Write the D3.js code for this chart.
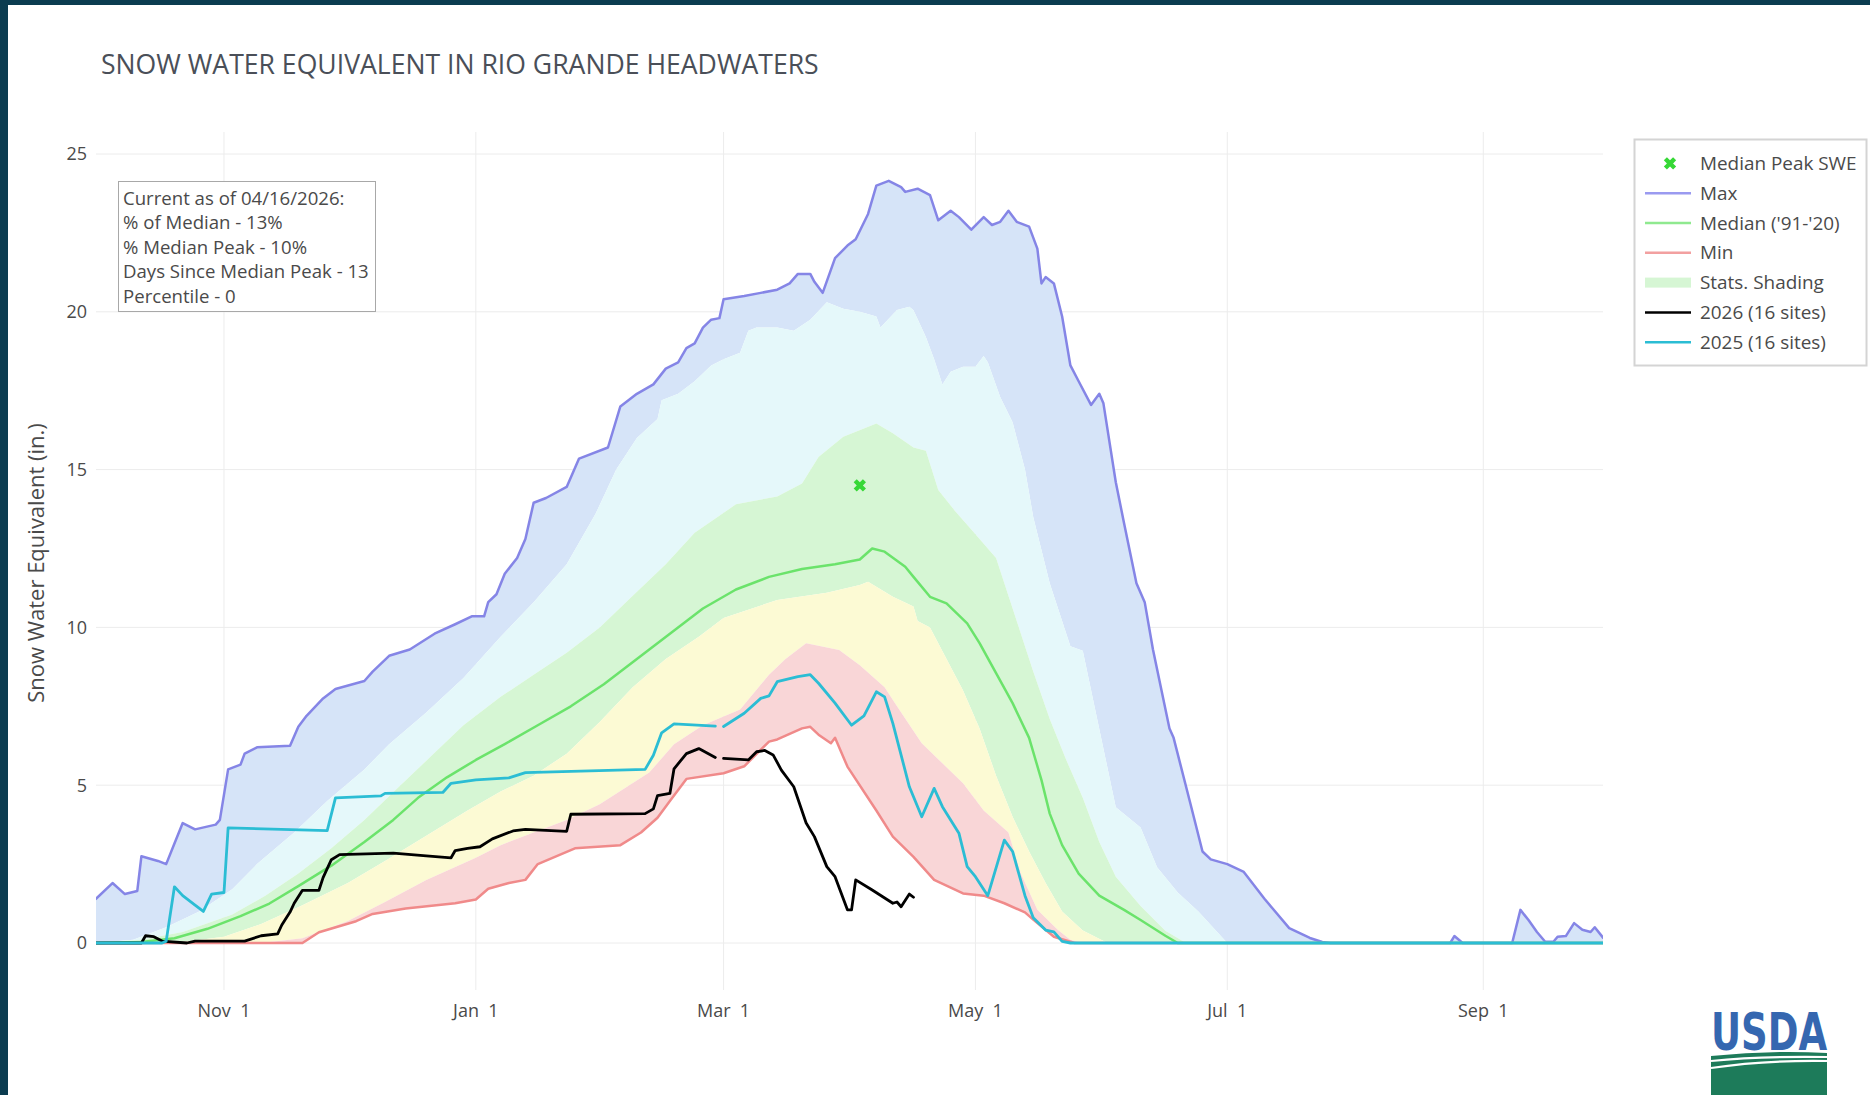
<!DOCTYPE html>
<html>
<head>
<meta charset="utf-8">
<script src="https://cdn.jsdelivr.net/npm/d3@7"></script>
<style>
  html, body { margin: 0; padding: 0; background: #ffffff; }
  svg { display: block; font-family: "Open Sans", "DejaVu Sans", sans-serif; }
  .tick-x { white-space: pre; }
</style>
</head>
<body>
<svg id="chart" width="1870" height="1095"></svg>
<script>
// Snow water equivalent (inches) by month-day of the water year (Oct 1 - Sep 30).
// Statistics are for 1991-2020; null marks a day a series has no value (Feb 29).

const maxSWE = [
  ["10-01",1.4],["10-05",1.9],["10-08",1.55],["10-11",1.65],["10-12",2.75],["10-16",2.6],["10-18",2.5],
  ["10-20",3.15],["10-22",3.8],["10-25",3.6],["10-30",3.75],["10-31",3.9],["11-02",5.5],["11-05",5.65],
  ["11-06",6.0],["11-09",6.2],["11-17",6.25],["11-19",6.85],["11-21",7.2],["11-25",7.75],["11-28",8.05],
  ["12-05",8.3],["12-07",8.6],["12-11",9.1],["12-16",9.3],["12-22",9.8],["12-27",10.1],["12-31",10.35],
  ["01-03",10.35],["01-04",10.8],["01-06",11.05],["01-08",11.7],["01-11",12.2],["01-13",12.8],["01-15",13.95],
  ["01-18",14.1],["01-23",14.45],["01-26",15.35],["02-02",15.7],["02-05",17.0],["02-09",17.4],["02-13",17.7],
  ["02-16",18.2],["02-19",18.4],["02-21",18.85],["02-23",19.0],["02-25",19.5],["02-27",19.75],["02-29",19.8],
  ["03-01",20.4],["03-06",20.5],["03-10",20.6],["03-14",20.7],["03-17",20.9],["03-19",21.2],["03-22",21.2],
  ["03-23",20.95],["03-25",20.6],["03-28",21.7],["03-31",22.1],["04-02",22.3],["04-05",23.1],["04-07",24.0],
  ["04-10",24.15],["04-13",23.95],["04-14",23.8],["04-17",23.9],["04-20",23.7],["04-22",22.9],["04-25",23.2],
  ["04-27",23.0],["04-30",22.6],["05-03",23.0],["05-05",22.75],["05-07",22.85],["05-09",23.2],["05-11",22.85],
  ["05-14",22.7],["05-16",22.0],["05-17",20.9],["05-18",21.1],["05-20",20.9],["05-22",19.85],["05-24",18.3],
  ["05-26",17.8],["05-29",17.05],["05-31",17.4],["06-01",17.1],["06-04",14.6],["06-06",13.3],["06-09",11.4],
  ["06-11",10.8],["06-13",9.3],["06-17",6.8],["06-18",6.5],["06-22",4.45],["06-25",2.9],["06-27",2.65],
  ["07-01",2.5],["07-05",2.25],["07-10",1.4],["07-16",0.47],["07-21",0.16],["07-24",0.03],["07-26",0],
  ["08-24",0],["08-25",0.22],["08-27",0],["09-08",0],["09-10",1.05],["09-12",0.72],["09-14",0.35],
  ["09-16",0.04],["09-18",0.04],["09-19",0.2],["09-21",0.22],["09-23",0.63],["09-25",0.42],["09-27",0.35],
  ["09-28",0.5],["09-30",0.17]
];

const pct90 = [
  ["10-01",0],["10-10",0.1],["10-18",0.5],["10-26",1.0],["11-03",1.7],["11-09",2.5],["11-18",3.5],
  ["11-26",4.5],["12-05",5.5],["12-11",6.3],["12-20",7.3],["12-29",8.4],["01-07",9.7],["01-15",10.8],
  ["01-23",12.0],["01-30",13.6],["02-04",15.0],["02-09",16.0],["02-14",16.6],["02-15",17.2],["02-19",17.4],
  ["02-23",17.8],["02-27",18.3],["03-01",18.5],["03-05",18.7],["03-07",19.4],["03-09",19.5],["03-14",19.5],
  ["03-18",19.4],["03-22",19.75],["03-26",20.3],["03-30",20.1],["04-03",20.0],["04-07",19.85],["04-08",19.5],
  ["04-12",20.06],["04-15",20.16],["04-16",20.05],["04-19",19.2],["04-21",18.5],["04-23",17.7],["04-25",18.1],
  ["04-28",18.26],["05-01",18.26],["05-03",18.6],["05-04",18.4],["05-07",17.3],["05-10",16.5],["05-13",15.0],
  ["05-15",13.5],["05-19",11.4],["05-24",9.4],["05-27",9.26],["05-30",7.4],["06-04",4.3],["06-10",3.66],
  ["06-14",2.4],["06-19",1.6],["06-24",1.0],["07-01",0],["09-30",0]
];

const pct70 = [
  ["10-01",0],["10-12",0.1],["10-22",0.35],["11-03",0.9],["11-11",1.5],["11-19",2.2],["11-27",3.0],
  ["12-05",3.9],["12-13",4.9],["12-21",5.9],["12-29",6.9],["01-07",7.8],["01-15",8.5],["01-23",9.2],
  ["01-31",10.0],["02-08",11.0],["02-16",12.0],["02-23",13.0],["03-04",13.9],["03-14",14.15],["03-20",14.56],
  ["03-24",15.4],["03-30",16.04],["04-07",16.46],["04-11",16.15],["04-16",15.7],["04-19",15.6],["04-22",14.35],
  ["04-26",13.7],["04-30",13.1],["05-06",12.2],["05-11",10.2],["05-15",8.6],["05-19",7.1],["05-23",5.8],
  ["05-27",4.6],["05-31",3.2],["06-04",2.1],["06-10",1.17],["06-16",0.39],["06-21",0],["09-30",0]
];

const medianSWE = [
  ["10-01",0],["10-12",0.03],["10-20",0.15],["10-28",0.45],["11-05",0.85],["11-12",1.25],["11-19",1.8],
  ["11-27",2.45],["12-05",3.2],["12-12",3.9],["12-18",4.6],["12-25",5.25],["01-01",5.8],["01-08",6.3],
  ["01-16",6.9],["01-24",7.5],["02-01",8.2],["02-09",9.0],["02-17",9.8],["02-25",10.6],["03-04",11.2],
  ["03-12",11.6],["03-20",11.85],["03-28",12.0],["04-03",12.15],["04-06",12.5],["04-09",12.4],["04-14",11.92],
  ["04-16",11.6],["04-20",10.97],["04-24",10.76],["04-29",10.13],["05-02",9.5],["05-06",8.55],["05-10",7.6],
  ["05-14",6.5],["05-17",5.16],["05-19",4.1],["05-22",3.1],["05-26",2.2],["05-31",1.5],["06-06",1.05],
  ["06-10",0.73],["06-16",0.23],["06-19",0],["09-30",0]
];

const pct30 = [
  ["10-01",0],["10-20",0],["11-01",0.2],["11-10",0.6],["11-20",1.2],["12-01",1.9],["12-10",2.6],
  ["12-20",3.4],["12-30",4.2],["01-07",4.8],["01-15",5.3],["01-23",6.0],["01-31",7.0],["02-08",8.1],
  ["02-16",9.0],["02-24",9.7],["03-01",10.3],["03-14",10.87],["03-26",11.1],["04-03",11.34],["04-05",11.45],
  ["04-11",10.97],["04-16",10.66],["04-17",10.2],["04-20",10.0],["04-24",9.0],["04-28",8.0],["05-02",6.8],
  ["05-06",5.3],["05-10",4.0],["05-14",2.9],["05-18",1.9],["05-22",1.0],["05-27",0.4],["06-02",0],["09-30",0]
];

const pct10 = [
  ["10-01",0],["11-10",0],["11-20",0.15],["12-01",0.7],["12-10",1.3],["12-20",2.0],["01-01",2.7],
  ["01-07",3.1],["01-15",3.5],["01-23",3.9],["01-31",4.4],["02-12",5.4],["02-18",6.3],["02-25",6.9],
  ["03-05",7.4],["03-12",8.5],["03-16",9.0],["03-21",9.5],["03-29",9.28],["04-03",8.8],["04-09",8.1],
  ["04-12",7.5],["04-18",6.33],["04-28",5.06],["05-03",4.2],["05-09",3.5],["05-12",2.2],["05-16",1.05],
  ["05-21",0.41],["05-24",0.1],["05-27",0],["09-30",0]
];

const minSWE = [
  ["10-01",0],["11-20",0],["11-24",0.34],["12-03",0.69],["12-07",0.92],["12-15",1.09],["12-27",1.26],
  ["01-01",1.38],["01-04",1.72],["01-09",1.9],["01-13",2.0],["01-16",2.5],["01-25",3.0],["02-05",3.1],
  ["02-10",3.5],["02-14",3.97],["02-17",4.5],["02-21",5.2],["03-01",5.38],["03-06",5.6],["03-12",6.38],
  ["03-14",6.45],["03-20",6.8],["03-22",6.85],["03-24",6.6],["03-27",6.33],["03-28",6.5],["03-31",5.59],
  ["04-07",4.2],["04-11",3.37],["04-16",2.73],["04-21",2.0],["04-28",1.57],["05-03",1.5],["05-08",1.26],
  ["05-13",0.97],["05-15",0.74],["05-20",0.2],["05-25",0],["09-30",0]
];

const wy2026 = [
  ["10-01",0],["10-12",0],["10-13",0.23],["10-15",0.2],["10-17",0.06],["10-23",0],["10-25",0.06],
  ["11-06",0.06],["11-10",0.23],["11-14",0.29],["11-15",0.57],["11-17",0.98],["11-18",1.26],["11-20",1.67],
  ["11-24",1.67],["11-25",2.07],["11-27",2.64],["11-29",2.8],["12-12",2.85],["12-20",2.76],
  ["12-26",2.7],["12-27",2.93],["12-30",3.0],["01-02",3.05],["01-05",3.3],["01-10",3.55],["01-13",3.6],
  ["01-23",3.54],["01-24",4.08],["02-11",4.1],["02-13",4.25],["02-14",4.67],["02-17",4.74],["02-18",5.52],
  ["02-21",6.0],["02-24",6.16],["02-28",5.88],["02-29",null],["03-01",5.85],["03-07",5.8],["03-09",6.06],
  ["03-11",6.1],["03-13",5.96],["03-15",5.48],["03-18",4.95],["03-21",3.8],["03-23",3.37],["03-26",2.42],
  ["03-28",2.1],["03-31",1.05],["04-01",1.05],["04-02",2.0],["04-06",1.68],["04-11",1.26],["04-12",1.3],
  ["04-13",1.15],["04-15",1.55],["04-16",1.45]
];

const wy2025 = [
  ["10-01",0],["10-17",0],["10-18",0.06],["10-20",1.78],["10-22",1.5],["10-25",1.2],["10-27",1.0],
  ["10-29",1.55],["11-01",1.6],["11-02",3.65],["11-26",3.56],["11-28",4.6],["12-09",4.66],["12-10",4.74],
  ["12-24",4.77],["12-26",5.06],["01-01",5.17],["01-09",5.23],["01-13",5.4],["02-11",5.5],["02-13",5.95],
  ["02-15",6.66],["02-18",6.94],["02-28",6.87],["02-29",null],["03-01",6.86],["03-06",7.28],
  ["03-10",7.75],["03-12",7.83],["03-14",8.28],["03-19",8.44],["03-22",8.5],["03-24",8.23],["03-28",7.6],
  ["04-01",6.9],["04-04",7.2],["04-07",7.96],["04-09",7.8],["04-11",6.96],["04-15",4.95],["04-18",4.0],
  ["04-21",4.9],["04-23",4.32],["04-27",3.48],["04-29",2.42],["05-01",2.1],["05-04",1.5],["05-08",3.26],
  ["05-10",2.9],["05-13",1.5],["05-15",0.8],["05-18",0.41],["05-20",0.35],["05-22",0.05],["05-24",0],
  ["09-30",0]
];

const medianPeak = [["04-03", 14.5]];

const yTicks = [0, 5, 10, 15, 20, 25];
const xTicks = ["11-01", "01-01", "03-01", "05-01", "07-01", "09-01"];

const titleText = "SNOW WATER EQUIVALENT IN RIO GRANDE HEADWATERS";
const yTitle = "Snow Water Equivalent (in.)";
const statusLines = [
  "Current as of 04/16/2026:",
  "% of Median - 13%",
  "% Median Peak - 10%",
  "Days Since Median Peak - 13",
  "Percentile - 0"
];

// ---------------------------------------------------------------------------

// Month-day keys are placed on a leap-year water year so Feb 29 has a slot.
function mdDate(md) {
  const [m, d] = md.split("-").map(Number);
  return new Date(m >= 10 ? 2019 : 2020, m - 1, d);
}
const toPts = arr => arr.map(([md, v]) => ({ date: mdDate(md), v }));

const svg = d3.select("#chart");

const plot = { left: 96, right: 1603, top: 132, bottom: 990 };
const x = d3.scaleTime()
  .domain([mdDate("10-01"), mdDate("09-30")])
  .range([plot.left, plot.right]);
const y = d3.scaleLinear().domain([0, 25]).range([943, 154]);

// page frame
svg.append("rect").attr("x", 0).attr("y", 0).attr("width", 1870).attr("height", 1095).attr("fill", "#ffffff");
svg.append("rect").attr("x", 0).attr("y", 0).attr("width", 1870).attr("height", 5).attr("fill", "#0b3c50");
svg.append("rect").attr("x", 0).attr("y", 0).attr("width", 8).attr("height", 1095).attr("fill", "#0b3c50");

svg.append("defs").append("clipPath").attr("id", "plotClip")
  .append("rect")
  .attr("x", plot.left).attr("y", plot.top)
  .attr("width", plot.right - plot.left).attr("height", plot.bottom - plot.top);

// grid
const grid = svg.append("g").attr("class", "grid");
grid.selectAll("line.h").data(yTicks).join("line")
  .attr("x1", plot.left).attr("x2", plot.right)
  .attr("y1", d => y(d)).attr("y2", d => y(d))
  .attr("stroke", "#ececec").attr("stroke-width", 1);
grid.selectAll("line.v").data(xTicks).join("line")
  .attr("x1", d => x(mdDate(d))).attr("x2", d => x(mdDate(d)))
  .attr("y1", plot.top).attr("y2", plot.bottom)
  .attr("stroke", "#ececec").attr("stroke-width", 1);

const layer = svg.append("g").attr("clip-path", "url(#plotClip)");

// shaded percentile bands: polygon from upper series then lower series reversed
function band(upper, lower, fill) {
  const up = toPts(upper).map(p => [x(p.date), y(p.v)]);
  const lo = toPts(lower).map(p => [x(p.date), y(p.v)]).reverse();
  const pts = up.concat(lo);
  layer.append("path")
    .attr("d", "M" + pts.map(p => p.join(",")).join("L") + "Z")
    .attr("fill", fill).attr("stroke", "none");
}
band(maxSWE, pct90, "#d6e4f8");
band(pct90, pct70, "#e5f8fa");
band(pct70, pct30, "#d6f6d4");
band(pct30, pct10, "#fcfad4");
band(pct10, minSWE, "#f9d6d7");

const line = d3.line()
  .defined(p => p.v !== null)
  .x(p => x(p.date))
  .y(p => y(p.v));

function drawLine(arr, color, width) {
  layer.append("path")
    .datum(toPts(arr))
    .attr("d", line)
    .attr("fill", "none")
    .attr("stroke", color)
    .attr("stroke-width", width)
    .attr("stroke-linejoin", "round")
    .attr("stroke-linecap", "round");
}
drawLine(maxSWE, "#8585e6", 2.5);
drawLine(minSWE, "#f08a8a", 2.5);
drawLine(medianSWE, "#6be36b", 2.5);
drawLine(wy2026, "#000000", 2.8);
drawLine(wy2025, "#2bbdd4", 2.8);

// median peak marker
const xSym = d3.symbol().type(d3.symbolCross).size(95);
layer.selectAll("path.peak").data(toPts(medianPeak)).join("path")
  .attr("d", xSym)
  .attr("transform", p => `translate(${x(p.date)},${y(p.v)}) rotate(45)`)
  .attr("fill", "#36d836");

// axes labels
const tickFont = 18;
svg.append("g").selectAll("text").data(yTicks).join("text")
  .attr("x", 87).attr("y", d => y(d))
  .attr("dy", "0.35em")
  .attr("text-anchor", "end")
  .attr("font-size", tickFont)
  .attr("fill", "#4a4a4a")
  .text(d => d);

const fmt = d3.timeFormat("%b %e");
svg.append("g").selectAll("text").data(xTicks).join("text")
  .attr("class", "tick-x")
  .attr("x", d => x(mdDate(d))).attr("y", 1017)
  .attr("text-anchor", "middle")
  .attr("font-size", tickFont)
  .attr("fill", "#4a4a4a")
  .text(d => fmt(mdDate(d)));

svg.append("text")
  .attr("transform", "translate(44,563) rotate(-90)")
  .attr("text-anchor", "middle")
  .attr("font-size", 22)
  .attr("fill", "#4a4a4a")
  .text(yTitle);

// title
svg.append("text")
  .attr("x", 101).attr("y", 74)
  .attr("font-size", 26.6)
  .attr("fill", "#4a4f58")
  .text(titleText);

// status box
const box = svg.append("g");
box.append("rect")
  .attr("x", 118.5).attr("y", 181.5).attr("width", 257).attr("height", 130)
  .attr("fill", "#ffffff").attr("stroke", "#a8a8a8").attr("stroke-width", 1);
box.selectAll("text").data(statusLines).join("text")
  .attr("x", 123).attr("y", (d, i) => 204.5 + i * 24.6)
  .attr("font-size", 18.6)
  .attr("fill", "#4a4a4a")
  .text(d => d);

// legend
const legendItems = [
  { label: "Median Peak SWE", kind: "marker", color: "#36d836" },
  { label: "Max", kind: "line", color: "#9a9af0" },
  { label: "Median ('91-'20)", kind: "line", color: "#8fe98f" },
  { label: "Min", kind: "line", color: "#f2a0a0" },
  { label: "Stats. Shading", kind: "band", color: "#d6f6d4" },
  { label: "2026 (16 sites)", kind: "line", color: "#000000" },
  { label: "2025 (16 sites)", kind: "line", color: "#2bbdd4" }
];
const lg = svg.append("g");
lg.append("rect")
  .attr("x", 1634.5).attr("y", 139.5).attr("width", 232).attr("height", 226)
  .attr("fill", "#ffffff").attr("stroke", "#d4d4d4").attr("stroke-width", 2);
const li = lg.selectAll("g.item").data(legendItems).join("g")
  .attr("transform", (d, i) => `translate(0,${163.4 + i * 29.8})`);
li.filter(d => d.kind === "line").append("line")
  .attr("x1", 1645).attr("x2", 1691).attr("y1", 0).attr("y2", 0)
  .attr("stroke", d => d.color).attr("stroke-width", 2.5);
li.filter(d => d.kind === "band").append("rect")
  .attr("x", 1645).attr("y", -5).attr("width", 46).attr("height", 10)
  .attr("fill", d => d.color);
li.filter(d => d.kind === "marker").append("path")
  .attr("d", xSym)
  .attr("transform", "translate(1670,0) rotate(45)")
  .attr("fill", d => d.color);
li.append("text")
  .attr("x", 1700).attr("y", 0).attr("dy", "0.35em")
  .attr("font-size", 18.9)
  .attr("fill", "#4a4a4a")
  .text(d => d.label);

// agency mark
const logo = svg.append("g");
logo.append("text")
  .attr("x", 1711).attr("y", 1050)
  .attr("font-family", "'Liberation Sans Narrow', 'DejaVu Sans Condensed', 'Liberation Sans', sans-serif")
  .attr("font-size", 52)
  .attr("font-weight", "bold")
  .attr("textLength", 116).attr("lengthAdjust", "spacingAndGlyphs")
  .attr("fill", "#3567b0")
  .text("USDA");
logo.append("path")
  .attr("d", "M1711,1056 Q1770,1050 1827,1053 L1827,1095 L1711,1095 Z")
  .attr("fill", "#1d7b5a");
logo.append("path")
  .attr("d", "M1711,1061 Q1760,1056 1827,1057")
  .attr("fill", "none").attr("stroke", "#ffffff").attr("stroke-width", 2.2);
logo.append("path")
  .attr("d", "M1711,1068 Q1765,1060 1827,1061")
  .attr("fill", "none").attr("stroke", "#ffffff").attr("stroke-width", 2.2);
</script>
</body>
</html>
